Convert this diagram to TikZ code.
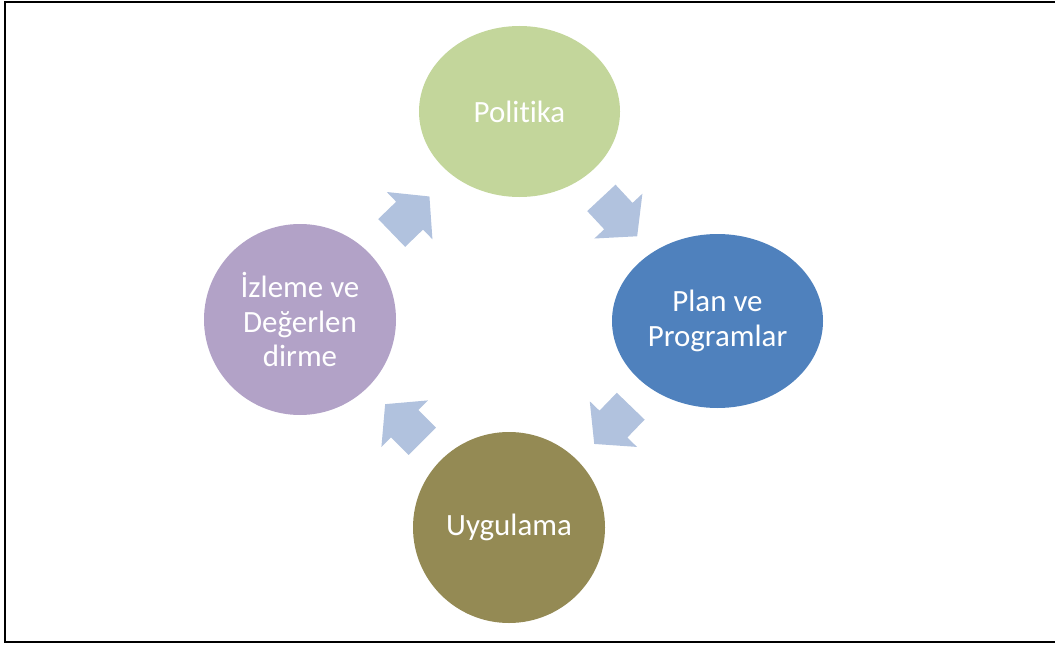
\documentclass[tikz,border=0pt]{standalone}
\usepackage{fontspec}
\setmainfont[Ligatures=NoCommon]{Carlito}
\usetikzlibrary{calc,shapes.geometric,shapes.arrows}
\definecolor{dngreen}{HTML}{C3D69B}
\definecolor{dnblue}{HTML}{4F81BD}
\definecolor{dnolive}{HTML}{948A54}
\definecolor{dnlilac}{HTML}{B2A2C7}
\definecolor{dnarrow}{HTML}{B1C2DE}

\begin{document}
\begin{tikzpicture}[x=1cm, y=1cm,
        stage/.style={ellipse, inner sep=0pt, text=white, align=center,
          font=\fontsize{17.6pt}{19.6pt}\selectfont},
        turn/.style={single arrow, fill=dnarrow, draw=none, inner sep=0pt,
          text height=0.38cm, text depth=0.38cm, minimum height=1.05cm,
          single arrow head extend=0.27cm, single arrow tip angle=100},
      ]
      \useasboundingbox (0,0) rectangle (21.1,12.92);
      \draw[line width=1pt] (0.1,0.08) rectangle (21.3,12.88);
      \node[stage, fill=dngreen, minimum width=4.02cm, minimum height=3.42cm] (pol)  at (10.39,10.69) {Politika};
      \node[stage, fill=dnblue,  minimum width=4.22cm, minimum height=3.48cm] (plan) at (14.35,6.50)  {Plan ve\\Programlar};
      \node[stage, fill=dnolive, minimum width=3.84cm, minimum height=3.82cm] (uyg)  at (10.18,2.37)  {Uygulama};
      \node[stage, fill=dnlilac, minimum width=3.84cm, minimum height=3.82cm] (izl)  at (6.00,6.53)   {İzleme ve\\Değerlen\\dirme};
      \node[turn, rotate=-47, xshift=-0.14cm] (t1) at ($(pol)!0.5!(plan)$) {};
      \node[turn, rotate=226, xshift=-0.14cm] (t2) at ($(plan)!0.5!(uyg)$) {};
      \node[turn, rotate=135, xshift=-0.14cm] (t3) at ($(uyg)!0.5!(izl)$)  {};
      \node[turn, rotate=44,  xshift=-0.14cm] (t4) at ($(izl)!0.5!(pol)$)  {};
    \end{tikzpicture}
\end{document}
